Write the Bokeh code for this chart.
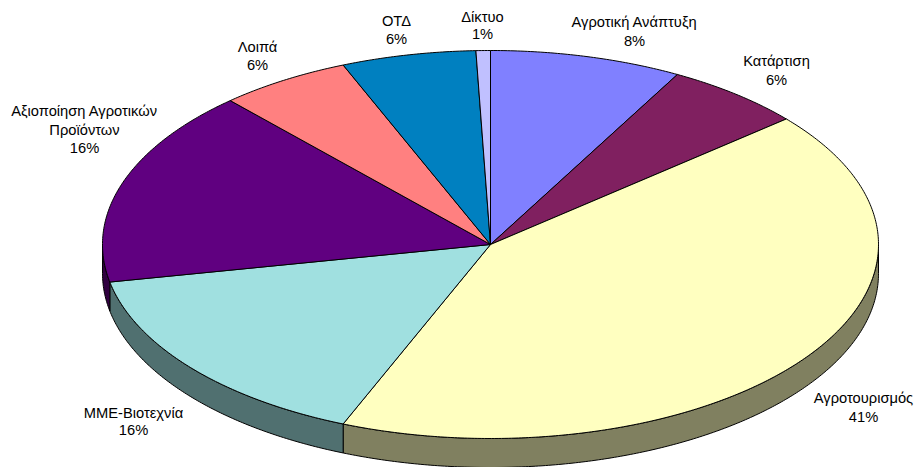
import numpy as np
from bokeh.plotting import figure
from bokeh.models import ColumnDataSource
from bokeh.core.properties import value
from bokeh.embed import file_html
from bokeh.resources import INLINE

categories = ["Αγροτική Ανάπτυξη", "Κατάρτιση", "Αγροτουρισμός", "ΜΜΕ-Βιοτεχνία",
              "Αξιοποίηση Αγροτικών Προϊόντων", "Λοιπά", "ΟΤΔ", "Δίκτυο"]
drawn_shares = [8.0, 5.8, 42.4, 15.7, 16.4, 5.5, 5.6, 0.6]
percent_labels = ["8%", "6%", "41%", "16%", "16%", "6%", "6%", "1%"]
top_colors = ["#8080FF", "#802060", "#FFFFC0", "#A0E0E0", "#600080", "#FF8080", "#0080C0", "#C0C0FF"]
side_colors = ["#404080", "#401030", "#808060", "#507070", "#300040", "#804040", "#004060", "#606080"]

label_lines = [["Αγροτική Ανάπτυξη", "8%"], ["Κατάρτιση", "6%"], ["Αγροτουρισμός", "41%"],
               ["ΜΜΕ-Βιοτεχνία", "16%"], ["Αξιοποίηση Αγροτικών", "Προϊόντων", "16%"],
               ["Λοιπά", "6%"], ["ΟΤΔ", "6%"], ["Δίκτυο", "1%"]]
label_x = [634, 776, 863, 133, 84, 257, 396, 482]
label_y = [[21, 40], [60, 79], [397, 416], [412, 429], [110, 129, 147], [46, 64], [20, 38], [16, 33]]

CX, CY, RX, RY, DEPTH = 490, 244, 388, 194, 29
W, H = 918, 467
p = figure(width=W, height=H, x_range=(0, W), y_range=(H, 0),
           output_backend="svg", toolbar_location=None, min_border=0)
p.axis.visible = False
p.grid.visible = False
p.outline_line_color = None
p.background_fill_color = "white"
p.border_fill_color = "white"


def arc(a0, a1, dy=0.0):
    th = np.radians(np.linspace(a0, a1, max(3, int(abs(a1 - a0) * 2) + 2)))
    return CX + RX * np.sin(th), CY + dy - RY * np.cos(th)


edges = np.concatenate([[0], np.cumsum(drawn_shares)]) / sum(drawn_shares) * 360

for i in range(len(drawn_shares)):
    a0, a1 = max(edges[i], 90), min(edges[i + 1], 270)
    if a1 <= a0:
        continue
    tx, ty = arc(a0, a1)
    bx, by = arc(a1, a0, DEPTH)
    p.patch(np.concatenate([tx, bx]), np.concatenate([ty, by]),
            fill_color=side_colors[i], line_color="black", line_width=1)

for i in range(len(drawn_shares)):
    ax, ay = arc(edges[i], edges[i + 1])
    p.patch(np.concatenate([[CX], ax]), np.concatenate([[CY], ay]),
            fill_color=top_colors[i], line_color="black", line_width=1)

xs, ys, ts = [], [], []
for lx, lys, lines in zip(label_x, label_y, label_lines):
    for ly, t in zip(lys, lines):
        xs.append(lx)
        ys.append(ly)
        ts.append(t)
p.text(x="x", y="y", text="t", source=ColumnDataSource(dict(x=xs, y=ys, t=ts)),
       text_font=value("Liberation Sans"), text_font_size="14.7px", text_color="black",
       text_align="center", text_baseline="middle")

html = file_html(p, INLINE)
html = html.replace("<head>", "<head><style>html,body{margin:0;padding:0;overflow:hidden}</style>", 1)
open("out.html", "w").write(html)
